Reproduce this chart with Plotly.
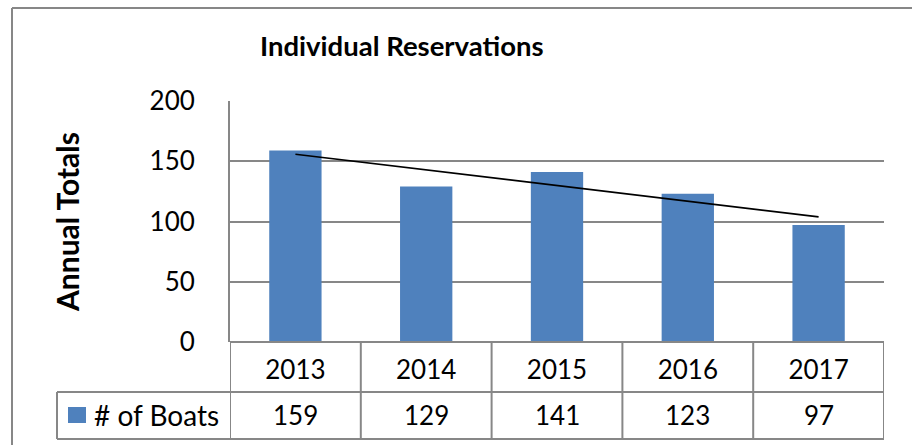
import numpy as np
import plotly.graph_objects as go

years = ["2013", "2014", "2015", "2016", "2017"]
boats = [159, 129, 141, 123, 97]
series_name = "# of Boats"
title_text = "Individual Reservations"
y_title = "Annual Totals"
y_ticks = [0, 50, 100, 150, 200]

W, H = 912, 445
FONT = "Lato"
BAR = "#4F81BD"
GRID = "#878787"

def py(px):
    return (H - px) / H

def px_(x):
    return x / W

# linear trendline
xi = np.arange(1, len(boats) + 1)
k, b = np.polyfit(xi, boats, 1)
trend = (k * xi + b).tolist()

fig = go.Figure()
fig.add_trace(go.Bar(x=years, y=boats, marker=dict(color=BAR, line=dict(width=0)),
                     width=0.4, showlegend=False, name=series_name))
fig.add_trace(go.Scatter(x=years, y=trend, mode="lines",
                         line=dict(color="black", width=1.7), showlegend=False))

shapes = []
# outer chart border (left + top)
shapes.append(dict(type="line", xref="paper", yref="paper", x0=px_(12), x1=1.0,
                   y0=py(8), y1=py(8), line=dict(color=GRID, width=2)))
shapes.append(dict(type="line", xref="paper", yref="paper", x0=px_(12), x1=px_(12),
                   y0=py(8), y1=0, line=dict(color=GRID, width=2)))
# data table lines
ybot, ymid, ytop = py(439), py(392), py(342)
for i in range(len(years) + 1):
    shapes.append(dict(type="line", xref="x", yref="paper", x0=i - 0.5, x1=i - 0.5,
                       y0=ybot, y1=ytop, line=dict(color=GRID, width=2)))
shapes.append(dict(type="line", xref="paper", yref="paper", x0=px_(57), x1=px_(884),
                   y0=ymid, y1=ymid, line=dict(color=GRID, width=2)))
shapes.append(dict(type="line", xref="paper", yref="paper", x0=px_(57), x1=px_(884),
                   y0=ybot, y1=ybot, line=dict(color=GRID, width=2)))
shapes.append(dict(type="line", xref="paper", yref="paper", x0=px_(57), x1=px_(57),
                   y0=ybot, y1=ymid, line=dict(color=GRID, width=2)))
shapes.append(dict(type="line", xref="paper", yref="paper", x0=px_(230), x1=px_(884),
                   y0=ytop, y1=ytop, line=dict(color=GRID, width=2)))
# legend key
shapes.append(dict(type="rect", xref="paper", yref="paper", x0=px_(68), x1=px_(86),
                   y0=py(423), y1=py(407), fillcolor=BAR, line=dict(width=0)))

annotations = []
annotations.append(dict(text="<b>%s</b>" % title_text, xref="paper", yref="paper",
                        x=px_(402), y=py(45), showarrow=False, xanchor="center",
                        yanchor="middle", font=dict(family=FONT, size=27.5, color="black")))
annotations.append(dict(text="<b>%s</b>" % y_title, xref="paper", yref="paper",
                        x=px_(67), y=py(222), showarrow=False, textangle=-90,
                        xanchor="center", yanchor="middle",
                        font=dict(family=FONT, size=30, color="black")))
for i, v in enumerate(boats):
    annotations.append(dict(text=str(v), xref="x", yref="paper", x=i, y=py(415),
                            showarrow=False, xanchor="center", yanchor="middle",
                            font=dict(family=FONT, size=26, color="black")))
annotations.append(dict(text=series_name, xref="paper", yref="paper", x=px_(92), y=py(415),
                        showarrow=False, xanchor="left", yanchor="middle",
                        font=dict(family=FONT, size=28, color="black")))

fig.update_layout(
    width=W, height=H,
    margin=dict(l=0, r=0, t=0, b=0, autoexpand=False),
    paper_bgcolor="white", plot_bgcolor="white",
    bargap=0.6,
    shapes=shapes, annotations=annotations,
    xaxis=dict(domain=[px_(230), px_(884)], range=[-0.5, 4.5], type="category",
               showgrid=False, showline=False, zeroline=False, ticks="",
               automargin=False,
               tickfont=dict(family=FONT, size=26, color="black"),
               ticklabelstandoff=10),
    yaxis=dict(domain=[py(342), py(101)], range=[0, 200], tickvals=y_ticks,
               showgrid=True, gridcolor=GRID, gridwidth=1.5, automargin=False,
               showline=True, linecolor=GRID, linewidth=2, zeroline=False,
               ticks="", tickfont=dict(family=FONT, size=26, color="black"),
               ticklabelstandoff=28),
)

fig.write_html("out.html", config={"responsive": False, "displayModeBar": False},
               post_script="document.body.style.margin='0';document.body.style.overflow='hidden';")
